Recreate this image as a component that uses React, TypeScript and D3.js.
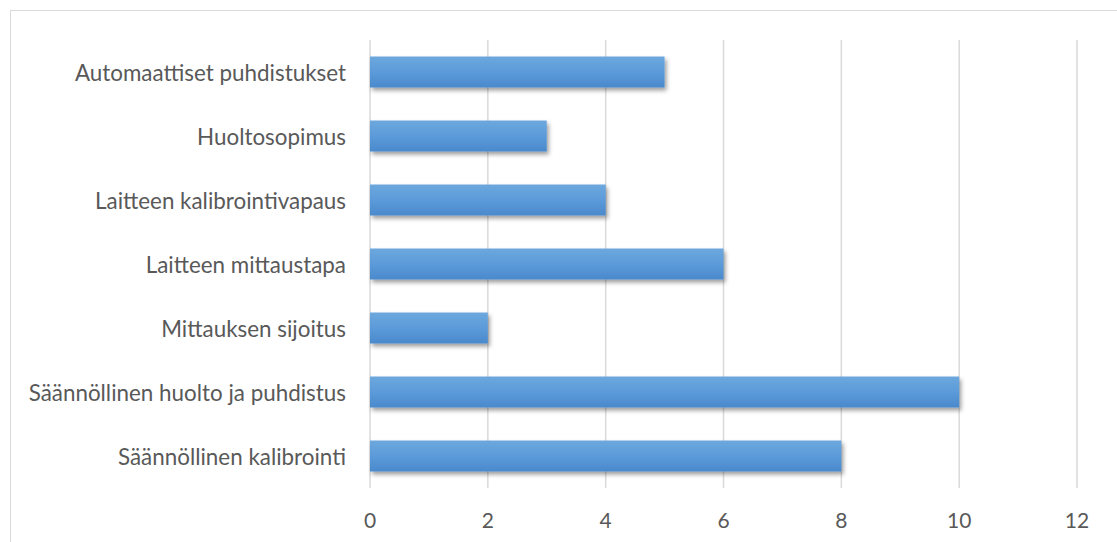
import React from "react";
import * as d3 from "d3";

const categories = [
  "Automaattiset puhdistukset",
  "Huoltosopimus",
  "Laitteen kalibrointivapaus",
  "Laitteen mittaustapa",
  "Mittauksen sijoitus",
  "Säännöllinen huolto ja puhdistus",
  "Säännöllinen kalibrointi",
];
const values = [5, 3, 4, 6, 2, 10, 8];
const ticks = [0, 2, 4, 6, 8, 10, 12];

const W = 1117;
const H = 542;
const FONT = "Lato, 'Open Sans', sans-serif";

export default function App() {
  const x = d3.scaleLinear().domain([0, 12]).range([370, 1077]);
  const y = d3
    .scaleBand<string>()
    .domain(categories)
    .range([40, 488])
    .paddingInner(0.516)
    .paddingOuter(0.258);

  return (
    <svg
      width={W}
      height={H}
      style={{ position: "absolute", left: 0, top: 0, display: "block", background: "#fff" }}
    >
      <defs>
        <linearGradient id="barGrad" x1="0" y1="0" x2="0" y2="1">
          <stop offset="0%" stopColor="#6da7de" />
          <stop offset="50%" stopColor="#5b9bd9" />
          <stop offset="100%" stopColor="#4a89cc" />
        </linearGradient>
        <filter id="shadow" x="-5%" y="-30%" width="115%" height="170%">
          <feDropShadow dx="2" dy="3" stdDeviation="2.2" floodColor="#000" floodOpacity="0.38" />
        </filter>
      </defs>
      <rect x={10.5} y={10.5} width={W + 10} height={H + 10} fill="#fff" stroke="#d9d9d9" strokeWidth={1} />
      {ticks.map((t) => (
        <line
          key={"g" + t}
          x1={x(t)}
          x2={x(t)}
          y1={40}
          y2={488}
          stroke="#d9d9d9"
          strokeWidth={1.5}
        />
      ))}
      {categories.map((c, i) => (
        <rect
          key={"b" + c}
          x={x(0)}
          y={y(c)!}
          width={x(values[i]) - x(0)}
          height={y.bandwidth()}
          fill="url(#barGrad)"
          filter="url(#shadow)"
        />
      ))}
      {categories.map((c) => (
        <text
          key={"l" + c}
          x={346}
          y={y(c)! + y.bandwidth() / 2}
          textAnchor="end"
          dominantBaseline="central"
          fontFamily={FONT}
          fontSize={22.4}
          fill="#595959"
        >
          {c}
        </text>
      ))}
      {ticks.map((t) => (
        <text
          key={"t" + t}
          x={x(t)}
          y={519}
          textAnchor="middle"
          dominantBaseline="central"
          fontFamily={FONT}
          fontSize={21}
          fill="#595959"
        >
          {t}
        </text>
      ))}
    </svg>
  );
}
